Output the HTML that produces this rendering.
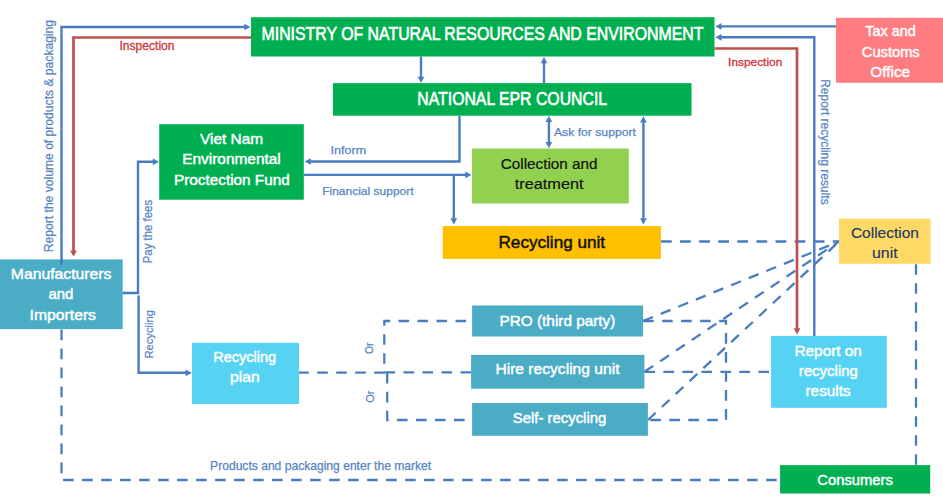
<!DOCTYPE html><html><head><meta charset="utf-8"><style>html,body{margin:0;padding:0;background:#fff;width:943px;height:499px;overflow:hidden}svg{display:block}text{font-family:"Liberation Sans",sans-serif}</style></head><body>
<svg width="943" height="499" viewBox="0 0 943 499">
<rect width="943" height="499" fill="#fff"/>
<polyline points="660.90,241.50 839.00,241.50" fill="none" stroke="#4A7CC0" stroke-width="2.3" stroke-dasharray="10.8 8.3" stroke-dashoffset="0" stroke-linejoin="miter"/>
<polyline points="298.20,372.60 385.50,372.60" fill="none" stroke="#4A7CC0" stroke-width="2.3" stroke-dasharray="10.6 8.4" stroke-dashoffset="0" stroke-linejoin="miter"/>
<polyline points="471.10,372.30 384.30,372.30" fill="none" stroke="#4A7CC0" stroke-width="2.3" stroke-dasharray="10.6 8.4" stroke-dashoffset="0" stroke-linejoin="miter"/>
<polyline points="472.10,321.00 384.30,321.00 384.30,373.00" fill="none" stroke="#4A7CC0" stroke-width="2.3" stroke-dasharray="10.6 8.4" stroke-dashoffset="13" stroke-linejoin="miter"/>
<polyline points="387.20,372.80 387.20,420.00 472.10,420.00" fill="none" stroke="#4A7CC0" stroke-width="2.3" stroke-dasharray="10.6 8.4" stroke-dashoffset="0" stroke-linejoin="miter"/>
<polyline points="643.10,321.00 726.00,321.00 726.00,420.00 647.90,420.00" fill="none" stroke="#4A7CC0" stroke-width="2.3" stroke-dasharray="10.6 8.4" stroke-dashoffset="0" stroke-linejoin="miter"/>
<polyline points="644.40,371.80 771.10,371.80" fill="none" stroke="#4A7CC0" stroke-width="2.3" stroke-dasharray="10.6 8.4" stroke-dashoffset="0" stroke-linejoin="miter"/>
<polyline points="643.10,321.00 839.00,241.50" fill="none" stroke="#4A7CC0" stroke-width="2.3" stroke-dasharray="10.6 8.4" stroke-dashoffset="0" stroke-linejoin="miter"/>
<polyline points="644.40,371.80 839.00,241.50" fill="none" stroke="#4A7CC0" stroke-width="2.3" stroke-dasharray="10.6 8.4" stroke-dashoffset="0" stroke-linejoin="miter"/>
<polyline points="647.90,420.00 839.00,241.50" fill="none" stroke="#4A7CC0" stroke-width="2.3" stroke-dasharray="10.6 8.4" stroke-dashoffset="0" stroke-linejoin="miter"/>
<polyline points="61.50,329.60 61.50,480.00 780.10,480.00" fill="none" stroke="#4A7CC0" stroke-width="2.3" stroke-dasharray="10.6 8.4" stroke-dashoffset="0" stroke-linejoin="miter"/>
<polyline points="916.00,264.20 916.00,465.10" fill="none" stroke="#4A7CC0" stroke-width="2.3" stroke-dasharray="10.6 8.4" stroke-dashoffset="0" stroke-linejoin="miter"/>
<rect x="251.00" y="17.20" width="463.50" height="39.30" fill="#00B050"/>
<rect x="333.00" y="83.10" width="358.50" height="32.60" fill="#00B050"/>
<rect x="159.20" y="124.20" width="144.60" height="75.50" fill="#00B050"/>
<rect x="472.00" y="148.50" width="156.80" height="55.00" fill="#92D050"/>
<rect x="442.80" y="226.00" width="218.10" height="32.90" fill="#FFC000"/>
<rect x="836.00" y="17.80" width="107.00" height="65.00" fill="#FF7C80"/>
<rect x="839.00" y="218.70" width="91.50" height="45.10" fill="#FFD966"/>
<rect x="0.00" y="259.40" width="122.70" height="69.70" fill="#4BACC6"/>
<rect x="192.00" y="342.80" width="107.00" height="61.20" fill="#56D2F2"/>
<rect x="472.10" y="305.50" width="171.00" height="31.00" fill="#4BACC6"/>
<rect x="471.10" y="354.90" width="173.30" height="33.80" fill="#4BACC6"/>
<rect x="472.10" y="403.00" width="175.80" height="32.80" fill="#4BACC6"/>
<rect x="771.10" y="335.90" width="115.70" height="71.90" fill="#56D2F2"/>
<rect x="780.10" y="465.10" width="150.10" height="28.40" fill="#00B050"/>
<polyline points="61.50,265.00 61.50,27.00 246.50,27.00" fill="none" stroke="#4A7CC0" stroke-width="2.4" stroke-linejoin="miter"/>
<polygon points="250.50,27.00 244.30,30.35 244.30,23.65" fill="#4A7CC0"/>
<polyline points="251.00,37.50 73.50,37.50 73.50,252.60" fill="none" stroke="#C0504D" stroke-width="2.7" stroke-linejoin="miter"/>
<polygon points="73.50,256.60 70.15,250.40 76.85,250.40" fill="#C0504D"/>
<polyline points="421.00,56.50 421.00,78.90" fill="none" stroke="#4A7CC0" stroke-width="2.4" stroke-linejoin="miter"/>
<polygon points="421.00,82.90 417.65,76.70 424.35,76.70" fill="#4A7CC0"/>
<polyline points="544.00,83.10 544.00,61.00" fill="none" stroke="#4A7CC0" stroke-width="2.4" stroke-linejoin="miter"/>
<polygon points="544.00,57.00 547.35,63.20 540.65,63.20" fill="#4A7CC0"/>
<polyline points="836.00,26.40 719.30,26.40" fill="none" stroke="#4A7CC0" stroke-width="2.4" stroke-linejoin="miter"/>
<polygon points="715.30,26.40 721.50,23.05 721.50,29.75" fill="#4A7CC0"/>
<polyline points="814.30,335.90 814.30,37.30 719.30,37.30" fill="none" stroke="#4A7CC0" stroke-width="2.4" stroke-linejoin="miter"/>
<polygon points="715.30,37.30 721.50,33.95 721.50,40.65" fill="#4A7CC0"/>
<polyline points="714.50,48.50 797.00,48.50 797.00,330.40" fill="none" stroke="#C0504D" stroke-width="2.7" stroke-linejoin="miter"/>
<polygon points="797.00,334.40 793.65,328.20 800.35,328.20" fill="#C0504D"/>
<polyline points="459.50,115.70 459.50,161.50 308.60,161.50" fill="none" stroke="#4A7CC0" stroke-width="2.4" stroke-linejoin="miter"/>
<polygon points="304.60,161.50 310.80,158.15 310.80,164.85" fill="#4A7CC0"/>
<polyline points="303.80,174.90 467.40,174.90" fill="none" stroke="#4A7CC0" stroke-width="2.4" stroke-linejoin="miter"/>
<polygon points="471.40,174.90 465.20,178.25 465.20,171.55" fill="#4A7CC0"/>
<polyline points="453.80,174.90 453.80,220.40" fill="none" stroke="#4A7CC0" stroke-width="2.4" stroke-linejoin="miter"/>
<polygon points="453.80,224.40 450.45,218.20 457.15,218.20" fill="#4A7CC0"/>
<polyline points="548.90,119.80 548.90,144.20" fill="none" stroke="#4A7CC0" stroke-width="2.4" stroke-linejoin="miter"/>
<polygon points="548.90,148.20 545.55,142.00 552.25,142.00" fill="#4A7CC0"/>
<polygon points="548.90,115.80 552.25,122.00 545.55,122.00" fill="#4A7CC0"/>
<polyline points="643.40,120.20 643.40,220.50" fill="none" stroke="#4A7CC0" stroke-width="2.4" stroke-linejoin="miter"/>
<polygon points="643.40,224.50 640.05,218.30 646.75,218.30" fill="#4A7CC0"/>
<polygon points="643.40,116.20 646.75,122.40 640.05,122.40" fill="#4A7CC0"/>
<polyline points="122.70,293.00 138.00,293.00 138.00,161.80 155.00,161.80" fill="none" stroke="#4A7CC0" stroke-width="2.4" stroke-linejoin="miter"/>
<polygon points="159.00,161.80 152.80,165.15 152.80,158.45" fill="#4A7CC0"/>
<polyline points="138.60,295.50 138.60,372.80 187.80,372.80" fill="none" stroke="#4A7CC0" stroke-width="2.4" stroke-linejoin="miter"/>
<polygon points="191.80,372.80 185.60,376.15 185.60,369.45" fill="#4A7CC0"/>
<text x="261.50" y="39.70" font-size="17.94" fill="#FFFFFF" stroke="#FFFFFF" stroke-width="0.60" textLength="442.00" lengthAdjust="spacingAndGlyphs">MINISTRY OF NATURAL RESOURCES AND ENVIRONMENT</text>
<text x="417.30" y="104.50" font-size="18.23" fill="#FFFFFF" stroke="#FFFFFF" stroke-width="0.60" textLength="189.80" lengthAdjust="spacingAndGlyphs">NATIONAL EPR COUNCIL</text>
<text x="200.00" y="143.70" font-size="15.01" fill="#FFFFFF" stroke="#FFFFFF" stroke-width="0.45" textLength="63.20" lengthAdjust="spacingAndGlyphs">Viet Nam</text>
<text x="182.20" y="163.60" font-size="15.01" fill="#FFFFFF" stroke="#FFFFFF" stroke-width="0.45" textLength="98.60" lengthAdjust="spacingAndGlyphs">Environmental</text>
<text x="174.00" y="184.60" font-size="15.01" fill="#FFFFFF" stroke="#FFFFFF" stroke-width="0.45" textLength="115.70" lengthAdjust="spacingAndGlyphs">Proctection Fund</text>
<text x="500.80" y="168.50" font-size="14.96" fill="#111111" stroke="#111111" stroke-width="0.18" textLength="96.70" lengthAdjust="spacingAndGlyphs">Collection and</text>
<text x="514.80" y="188.80" font-size="14.96" fill="#111111" stroke="#111111" stroke-width="0.18" textLength="68.70" lengthAdjust="spacingAndGlyphs">treatment</text>
<text x="498.50" y="248.20" font-size="16.32" fill="#111111" stroke="#111111" stroke-width="0.45" textLength="106.60" lengthAdjust="spacingAndGlyphs">Recycling unit</text>
<text x="865.30" y="35.80" font-size="15.01" fill="#FFFFFF" stroke="#FFFFFF" stroke-width="0.45" textLength="50.50" lengthAdjust="spacingAndGlyphs">Tax and</text>
<text x="861.80" y="56.70" font-size="15.01" fill="#FFFFFF" stroke="#FFFFFF" stroke-width="0.45" textLength="57.90" lengthAdjust="spacingAndGlyphs">Customs</text>
<text x="870.20" y="76.70" font-size="15.01" fill="#FFFFFF" stroke="#FFFFFF" stroke-width="0.45" textLength="40.00" lengthAdjust="spacingAndGlyphs">Office</text>
<text x="850.90" y="237.80" font-size="15.25" fill="#1F3864" stroke="#1F3864" stroke-width="0.18" textLength="68.00" lengthAdjust="spacingAndGlyphs">Collection</text>
<text x="872.00" y="258.00" font-size="15.25" fill="#1F3864" stroke="#1F3864" stroke-width="0.18" textLength="25.60" lengthAdjust="spacingAndGlyphs">unit</text>
<text x="10.80" y="278.90" font-size="15.01" fill="#FFFFFF" stroke="#FFFFFF" stroke-width="0.45" textLength="100.60" lengthAdjust="spacingAndGlyphs">Manufacturers</text>
<text x="48.40" y="299.20" font-size="15.01" fill="#FFFFFF" stroke="#FFFFFF" stroke-width="0.45" textLength="24.90" lengthAdjust="spacingAndGlyphs">and</text>
<text x="29.60" y="320.10" font-size="15.01" fill="#FFFFFF" stroke="#FFFFFF" stroke-width="0.45" textLength="66.40" lengthAdjust="spacingAndGlyphs">Importers</text>
<text x="213.20" y="361.70" font-size="14.72" fill="#FFFFFF" stroke="#FFFFFF" stroke-width="0.45" textLength="63.00" lengthAdjust="spacingAndGlyphs">Recycling</text>
<text x="230.00" y="382.10" font-size="14.72" fill="#FFFFFF" stroke="#FFFFFF" stroke-width="0.45" textLength="29.70" lengthAdjust="spacingAndGlyphs">plan</text>
<text x="499.60" y="326.10" font-size="15.01" fill="#FFFFFF" stroke="#FFFFFF" stroke-width="0.45" textLength="115.70" lengthAdjust="spacingAndGlyphs">PRO (third party)</text>
<text x="495.40" y="373.80" font-size="15.01" fill="#FFFFFF" stroke="#FFFFFF" stroke-width="0.45" textLength="124.10" lengthAdjust="spacingAndGlyphs">Hire recycling unit</text>
<text x="512.80" y="423.00" font-size="15.01" fill="#FFFFFF" stroke="#FFFFFF" stroke-width="0.45" textLength="93.50" lengthAdjust="spacingAndGlyphs">Self- recycling</text>
<text x="794.50" y="355.70" font-size="14.72" fill="#FFFFFF" stroke="#FFFFFF" stroke-width="0.45" textLength="67.40" lengthAdjust="spacingAndGlyphs">Report on</text>
<text x="798.80" y="375.90" font-size="14.72" fill="#FFFFFF" stroke="#FFFFFF" stroke-width="0.45" textLength="59.10" lengthAdjust="spacingAndGlyphs">recycling</text>
<text x="805.50" y="396.40" font-size="14.72" fill="#FFFFFF" stroke="#FFFFFF" stroke-width="0.45" textLength="45.20" lengthAdjust="spacingAndGlyphs">results</text>
<text x="817.30" y="484.70" font-size="15.01" fill="#FFFFFF" stroke="#FFFFFF" stroke-width="0.45" textLength="75.60" lengthAdjust="spacingAndGlyphs">Consumers</text>
<text x="330.60" y="154.40" font-size="11.70" fill="#5584C4" stroke="#5584C4" stroke-width="0.25" textLength="35.50" lengthAdjust="spacingAndGlyphs">Inform</text>
<text x="322.20" y="195.30" font-size="11.70" fill="#5584C4" stroke="#5584C4" stroke-width="0.25" textLength="91.40" lengthAdjust="spacingAndGlyphs">Financial support</text>
<text x="554.00" y="136.00" font-size="11.70" fill="#5584C4" stroke="#5584C4" stroke-width="0.25" textLength="81.90" lengthAdjust="spacingAndGlyphs">Ask for support</text>
<text x="210.10" y="469.60" font-size="11.99" fill="#5584C4" stroke="#5584C4" stroke-width="0.25" textLength="221.10" lengthAdjust="spacingAndGlyphs">Products and packaging enter the market</text>
<text x="119.50" y="49.50" font-size="12.09" fill="#D2343C" stroke="#D2343C" stroke-width="0.30" textLength="55.00" lengthAdjust="spacingAndGlyphs">Inspection</text>
<text x="728.10" y="65.70" font-size="11.37" fill="#D2343C" stroke="#D2343C" stroke-width="0.30" textLength="54.20" lengthAdjust="spacingAndGlyphs">Inspection</text>
<text transform="translate(52.60,252.20) rotate(-90)" x="0" y="0" font-size="12.06" fill="#5584C4" stroke="#5584C4" stroke-width="0.22" textLength="232.30" lengthAdjust="spacingAndGlyphs">Report the volume of products &amp; packaging</text>
<text transform="translate(152.20,263.30) rotate(-90)" x="0" y="0" font-size="11.92" fill="#5584C4" stroke="#5584C4" stroke-width="0.22" textLength="63.50" lengthAdjust="spacingAndGlyphs">Pay the fees</text>
<text transform="translate(153.00,358.60) rotate(-90)" x="0" y="0" font-size="11.77" fill="#5584C4" stroke="#5584C4" stroke-width="0.22" textLength="48.70" lengthAdjust="spacingAndGlyphs">Recycling</text>
<text transform="translate(821.10,79.20) rotate(90)" x="0" y="0" font-size="12.21" fill="#5584C4" stroke="#5584C4" stroke-width="0.22" textLength="125.50" lengthAdjust="spacingAndGlyphs">Report recycling results</text>
<text transform="translate(372.60,354.00) rotate(-90)" x="0" y="0" font-size="11.19" fill="#5584C4" stroke="#5584C4" stroke-width="0.22" textLength="11.50" lengthAdjust="spacingAndGlyphs">Or</text>
<text transform="translate(373.90,402.80) rotate(-90)" x="0" y="0" font-size="11.63" fill="#5584C4" stroke="#5584C4" stroke-width="0.22" textLength="12.30" lengthAdjust="spacingAndGlyphs">Or</text>
</svg></body></html>
